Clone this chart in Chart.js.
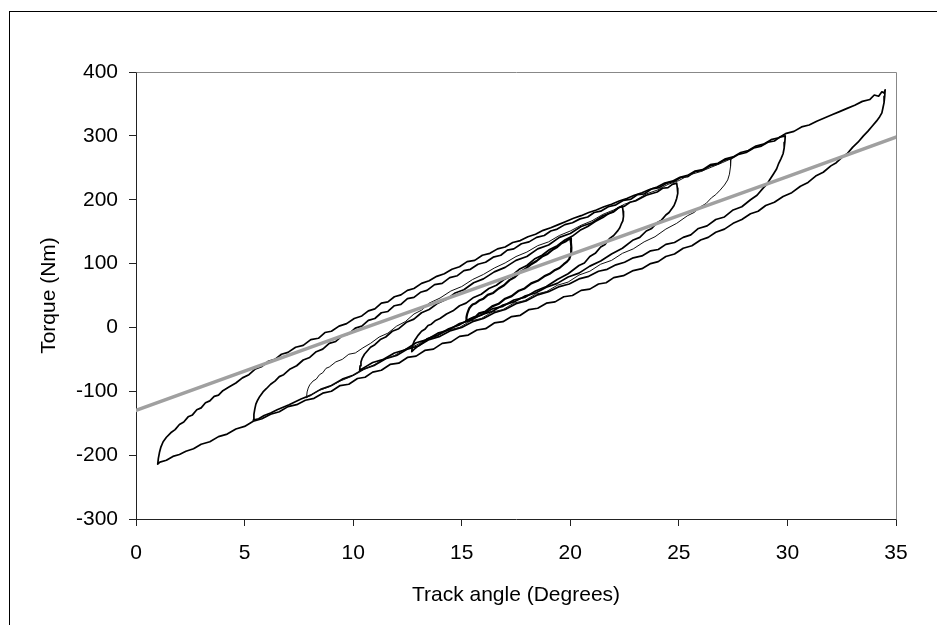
<!DOCTYPE html>
<html><head><meta charset="utf-8">
<script src="https://cdn.jsdelivr.net/npm/chart.js@4.4.1/dist/chart.umd.min.js"></script>
<style>html,body{margin:0;padding:0;background:#fff;}canvas{display:block;}</style>
</head><body>
<canvas id="c" width="937" height="625"></canvas>
<script>
// Axis ranges / tick labels
const xTicks = [0,5,10,15,20,25,30,35];
const yTicks = [-300,-200,-100,0,100,200,300,400];
const xTitle = "Track angle (Degrees)";
const yTitle = "Torque (Nm)";

// Fitted (grey) line
const fitLine = [[0,-130],[10,-7],[20,114],[30,236],[35,298]];

// Hysteresis loops [angle, torque]
const loopF = [[1.0,-214],[1.03,-205],[1.08,-196],[1.15,-187],[1.25,-179],[1.4,-172],[1.6,-165],[1.8,-160],[2.0,-152],[2.2,-148],[2.4,-140],[2.6,-137],[2.8,-129],[3.0,-126],[3.2,-118],[3.4,-115],[3.6,-108],[3.8,-106],[4.0,-99],[4.3,-93],[4.6,-87],[4.9,-79],[5.2,-74],[5.5,-65],[5.8,-61],[6.1,-53],[6.4,-50],[6.7,-42],[7.0,-39],[7.35,-31],[7.7,-28],[8.05,-19],[8.4,-17],[8.7,-8],[9.0,-6],[9.35,2],[9.7,6],[10.05,14],[10.4,18],[10.7,26],[11.0,29],[11.3,38],[11.6,40],[11.9,48],[12.2,51],[12.5,58],[12.8,61],[13.15,69],[13.5,73],[13.85,80],[14.2,84],[14.55,91],[14.9,95],[15.25,103],[15.6,105],[15.95,113],[16.3,116],[16.65,123],[17.0,126],[17.35,133],[17.7,136],[18.05,142],[18.4,146],[18.75,152],[19.1,156],[19.45,161],[19.8,166],[20.15,171],[20.5,175],[20.85,180],[21.2,184],[21.55,189],[21.9,193],[22.25,198],[22.6,202],[22.95,207],[23.3,211],[23.65,216],[24.0,220],[24.35,226],[24.7,229],[25.05,235],[25.4,238],[25.75,245],[26.1,247],[26.45,255],[26.8,257],[27.15,264],[27.5,267],[27.85,274],[28.2,277],[28.55,284],[28.9,287],[29.25,294],[29.6,297],[29.95,304],[30.3,307],[30.65,314],[31.0,317],[31.35,323],[31.7,328],[32.05,333],[32.4,338],[32.75,343],[33.1,348],[33.45,354],[33.8,357],[34.0,364],[34.2,362],[34.35,369],[34.45,367],[34.5,372],
  [34.48,362],[34.45,352],[34.4,344],[34.35,336],[34.25,330],[34.1,323],[33.9,315],[33.7,307],[33.5,300],[33.25,290],[33.0,282],[32.75,272],[32.5,266],[32.25,258],[32.0,253],[31.65,243],[31.3,237],[30.95,227],[30.6,221],[30.2,211],[29.8,205],[29.4,196],[29.0,191],[28.65,182],[28.3,178],[27.9,169],[27.5,163],[27.1,154],[26.7,149],[26.35,141],[26.0,137],[25.6,128],[25.2,124],[24.8,115],[24.4,111],[24.05,103],[23.7,100],[23.3,92],[22.9,89],[22.45,81],[22.0,78],[21.65,70],[21.3,68],[20.9,60],[20.5,58],[20.1,50],[19.7,48],[19.3,40],[18.9,38],[18.5,30],[18.1,28],[17.7,19],[17.3,17],[16.9,9],[16.5,7],[16.1,-2],[15.7,-4],[15.3,-12],[14.9,-14],[14.5,-23],[14.1,-25],[13.7,-34],[13.3,-36],[12.9,-45],[12.5,-47],[12.1,-56],[11.7,-58],[11.3,-67],[10.9,-70],[10.55,-78],[10.2,-80],[9.8,-89],[9.4,-91],[9.0,-100],[8.6,-103],[8.2,-111],[7.8,-114],[7.4,-121],[7.0,-124],[6.6,-132],[6.2,-136],[5.8,-143],[5.4,-147],[5.0,-155],[4.6,-159],[4.2,-167],[3.8,-171],[3.4,-179],[3.0,-183],[2.65,-190],[2.3,-194],[2.0,-199],[1.7,-202],[1.4,-208],[1.1,-211],[1.0,-214]];
const loopE = [[5.4,-145],[5.43,-136],[5.47,-128],[5.52,-120],[5.6,-114],[5.7,-108],[5.85,-101],[6.0,-96],[6.2,-89],[6.4,-84],[6.6,-77],[6.8,-74],[7.1,-65],[7.4,-60],[7.7,-51],[8.0,-47],[8.3,-38],[8.6,-34],[8.9,-25],[9.2,-22],[9.5,-13],[9.8,-10],[10.1,-1],[10.4,2],[10.7,11],[11.0,14],[11.3,23],[11.6,25],[11.9,34],[12.2,36],[12.5,45],[12.8,47],[13.1,55],[13.4,58],[13.75,67],[14.1,69],[14.45,78],[14.8,81],[15.1,89],[15.4,91],[15.75,99],[16.1,102],[16.45,110],[16.8,113],[17.1,121],[17.4,123],[17.75,131],[18.1,134],[18.45,141],[18.8,144],[19.1,151],[19.4,154],[19.75,161],[20.1,164],[20.45,170],[20.8,173],[21.1,180],[21.4,182],[21.75,189],[22.1,192],[22.45,199],[22.8,201],[23.1,208],[23.4,209],[23.75,217],[24.1,219],[24.45,226],[24.8,229],[25.1,235],[25.4,236],[25.75,244],[26.1,246],[26.45,253],[26.8,256],[27.1,262],[27.4,264],[27.75,271],[28.1,274],[28.45,281],[28.8,284],[29.1,290],[29.4,292],[29.65,298],[29.9,300],
  [29.88,290],[29.85,281],[29.8,272],[29.7,264],[29.6,257],[29.5,248],[29.35,240],[29.2,232],[29.05,224],[28.9,219],[28.6,207],[28.3,200],[27.9,189],[27.5,184],[27.1,173],[26.7,169],[26.3,159],[25.9,155],[25.55,145],[25.2,141],[24.8,133],[24.4,130],[24.05,122],[23.7,120],[23.3,112],[22.9,109],[22.5,102],[22.1,98],[21.7,91],[21.3,88],[20.85,80],[20.4,76],[19.95,68],[19.5,64],[19.0,56],[18.5,51],[18.0,42],[17.5,37],[17.0,28],[16.5,23],[16.0,14],[15.5,9],[15.0,0],[14.5,-5],[14.0,-14],[13.5,-19],[13.0,-29],[12.5,-34],[12.0,-44],[11.5,-49],[11.0,-59],[10.5,-65],[10.0,-75],[9.5,-81],[9.0,-91],[8.5,-97],[8.05,-106],[7.6,-112],[7.05,-121],[6.5,-129],[6.2,-134],[5.9,-138],[5.65,-143],[5.4,-145]];
const loopD = [[7.85,-110],[7.88,-101],[7.93,-95],[8.0,-90],[8.15,-84],[8.3,-81],[8.45,-74],[8.6,-71],[8.75,-64],[8.9,-62],[9.2,-54],[9.5,-50],[9.8,-42],[10.1,-40],[10.45,-32],[10.8,-25],[11.2,-15],[11.6,-9],[12.0,2],[12.4,9],[12.8,21],[13.15,27],[13.5,38],[14.0,46],[14.5,57],[15.0,64],[15.5,75],[16.0,83],[16.5,93],[17.0,101],[17.5,111],[18.0,118],[18.5,128],[19.0,134],[19.5,144],[20.0,151],[20.5,160],[21.0,167],[21.5,177],[22.0,184],[22.5,193],[23.0,199],[23.5,209],[24.0,215],[24.5,224],[25.0,230],[25.5,239],[26.0,244],[26.5,251],[27.0,258],[27.2,261],[27.4,265],
  [27.38,252],[27.33,240],[27.25,231],[27.1,223],[26.9,215],[26.7,208],[26.5,203],[26.25,194],[26.0,189],[25.7,180],[25.4,175],[24.9,163],[24.4,154],[23.9,142],[23.4,134],[22.9,123],[22.4,116],[21.9,105],[21.4,99],[20.9,88],[20.4,82],[19.9,71],[19.4,66],[18.9,56],[18.4,52],[17.9,42],[17.4,38],[16.9,28],[16.4,24],[15.9,14],[15.4,10],[14.9,0],[14.4,-4],[13.9,-13],[13.4,-18],[12.9,-28],[12.4,-34],[11.9,-44],[11.4,-50],[10.9,-60],[10.4,-67],[9.9,-77],[9.4,-84],[8.9,-93],[8.4,-99],[8.1,-105],[7.85,-110]];
const loopC = [[10.3,-67],[10.32,-60],[10.36,-54],[10.42,-48],[10.52,-42],[10.65,-37],[10.8,-31],[11.0,-27],[11.25,-19],[11.5,-15],[11.8,-6],[12.1,-2],[12.45,8],[12.8,13],[13.15,23],[13.5,28],[13.9,38],[14.3,44],[14.7,54],[15.1,59],[15.55,70],[16.0,76],[16.5,87],[17.0,94],[17.5,105],[18.0,111],[18.5,123],[19.0,129],[19.5,141],[20.0,147],[20.5,158],[21.0,164],[21.5,175],[22.0,181],[22.25,188],[22.5,190],[22.75,196],[23.0,198],[23.5,207],[24.0,212],[24.25,218],[24.5,219],[24.7,224],[24.9,226],
  [24.93,218],[24.95,210],[24.9,202],[24.85,197],[24.78,191],[24.7,187],[24.55,180],[24.4,176],[24.2,168],[24.0,164],[23.75,155],[23.5,151],[23.2,141],[22.9,137],[22.4,124],[21.9,115],[21.4,104],[20.9,96],[20.4,85],[19.9,79],[19.4,69],[18.9,63],[18.4,54],[17.9,49],[17.4,40],[16.9,35],[16.4,25],[15.9,20],[15.4,11],[14.9,6],[14.4,-4],[13.9,-9],[13.4,-19],[12.9,-24],[12.4,-35],[11.9,-40],[11.4,-50],[10.9,-55],[10.6,-61],[10.3,-67]];
const loopB = [[12.7,-38],[12.72,-31],[12.76,-26],[12.82,-21],[12.9,-17],[13.0,-12],[13.15,-6],[13.3,-3],[13.45,3],[13.6,5],[13.8,11],[14.0,14],[14.3,21],[14.6,26],[14.9,34],[15.2,38],[15.55,47],[15.9,52],[16.25,61],[16.6,66],[16.95,75],[17.3,81],[17.65,91],[18.0,97],[18.35,107],[18.7,113],[19.05,122],[19.4,128],[19.75,137],[20.1,143],[20.45,152],[20.8,158],[21.15,166],[21.5,172],[21.75,178],[22.0,182],[22.2,187],[22.4,190],
  [22.43,182],[22.45,174],[22.42,167],[22.35,162],[22.28,156],[22.2,152],[22.0,144],[21.8,139],[21.6,130],[21.4,126],[21.15,116],[20.9,111],[20.65,101],[20.4,97],[19.9,84],[19.4,75],[18.9,64],[18.4,57],[17.9,47],[17.4,43],[16.9,33],[16.4,29],[15.9,19],[15.4,14],[14.9,4],[14.4,-2],[13.9,-12],[13.4,-18],[13.2,-24],[13.0,-29],[12.85,-33],[12.7,-38]];
const loopA = [[15.2,10],[15.22,16],[15.25,21],[15.3,26],[15.35,30],[15.42,33],[15.5,36],[15.65,38],[15.8,42],[16.0,45],[16.2,51],[16.45,54],[16.7,61],[16.95,66],[17.2,74],[17.45,79],[17.7,87],[17.95,92],[18.2,99],[18.45,104],[18.7,111],[18.95,115],[19.2,122],[19.4,126],[19.6,132],[19.8,135],[20.0,140],
  [20.03,133],[20.05,125],[20.04,117],[20.0,112],[19.95,107],[19.85,103],[19.7,99],[19.5,93],[19.3,90],[19.05,84],[18.8,80],[18.5,73],[18.2,69],[17.9,61],[17.6,57],[17.3,49],[17.0,45],[16.7,37],[16.4,33],[16.1,25],[15.8,22],[15.65,17],[15.5,15],[15.35,12],[15.2,10]];

const pts = a => a.map(p => ({x: p[0], y: p[1]}));
const FONT = "'Liberation Sans', Arial, sans-serif";

const frame = {
  id: 'frame',
  beforeDraw(chart) {
    const ctx = chart.ctx;
    ctx.save();
    ctx.fillStyle = '#fff';
    ctx.fillRect(0, 0, chart.width, chart.height);
    ctx.strokeStyle = '#000';
    ctx.lineWidth = 1;
    ctx.strokeRect(9.5, 11.5, 3000, 3000);
    ctx.restore();
  },
  afterDatasetsDraw(chart) {
    const a = chart.chartArea, ctx = chart.ctx;
    ctx.save();
    ctx.strokeStyle = '#888';
    ctx.lineWidth = 1;
    ctx.beginPath();
    ctx.moveTo(Math.round(a.left) + 0.5, Math.round(a.top) + 0.5);
    ctx.lineTo(Math.round(a.right) + 0.5, Math.round(a.top) + 0.5);
    ctx.lineTo(Math.round(a.right) + 0.5, Math.round(a.bottom) + 0.5);
    ctx.stroke();
    ctx.restore();
  }
};

const line = (data, w, color) => ({
  data: pts(data), showLine: true, borderColor: color, borderWidth: w,
  pointRadius: 0, fill: false, tension: 0, borderJoinStyle: 'round', borderCapStyle: 'round'
});

new Chart(document.getElementById('c'), {
  type: 'scatter',
  data: {
    datasets: [
      line(fitLine, 3.5, '#a0a0a0'),
      line(loopA, 2.2, '#000'),
      line(loopB, 1.7, '#000'),
      line(loopC, 1.7, '#000'),
      line(loopD, 1.0, '#111'),
      line(loopE, 1.7, '#000'),
      line(loopF, 1.7, '#000')
    ]
  },
  options: {
    responsive: false,
    animation: false,
    devicePixelRatio: 1,
    layout: { padding: { top: 72, right: 41, left: 0, bottom: 0 } },
    plugins: { legend: { display: false }, tooltip: { enabled: false } },
    scales: {
      x: {
        type: 'linear',
        min: xTicks[0], max: xTicks[xTicks.length - 1],
        afterFit: s => { s.height = 106; },
        afterBuildTicks: s => { s.ticks = xTicks.map(v => ({value: v})); },
        ticks: { color: '#000', font: { family: FONT, size: 21 }, padding: 15, maxRotation: 0 },
        grid: { drawOnChartArea: false, drawTicks: true, tickLength: 7, color: '#222' },
        border: { display: true, color: '#222', width: 1 },
        title: { display: true, text: xTitle, color: '#000', font: { family: FONT, size: 21 }, padding: { top: 0, bottom: 17 } }
      },
      y: {
        type: 'linear',
        min: yTicks[0], max: yTicks[yTicks.length - 1],
        afterFit: s => { s.width = 136; },
        afterBuildTicks: s => { s.ticks = yTicks.map(v => ({value: v})); },
        ticks: { color: '#000', font: { family: FONT, size: 21 }, padding: 11 },
        grid: { drawOnChartArea: false, drawTicks: true, tickLength: 7, color: '#222' },
        border: { display: true, color: '#222', width: 1 },
        title: { display: true, text: yTitle, color: '#000', font: { family: FONT, size: 21 }, padding: { top: 37, bottom: 0 } }
      }
    }
  },
  plugins: [frame]
});
</script>
</body></html>
